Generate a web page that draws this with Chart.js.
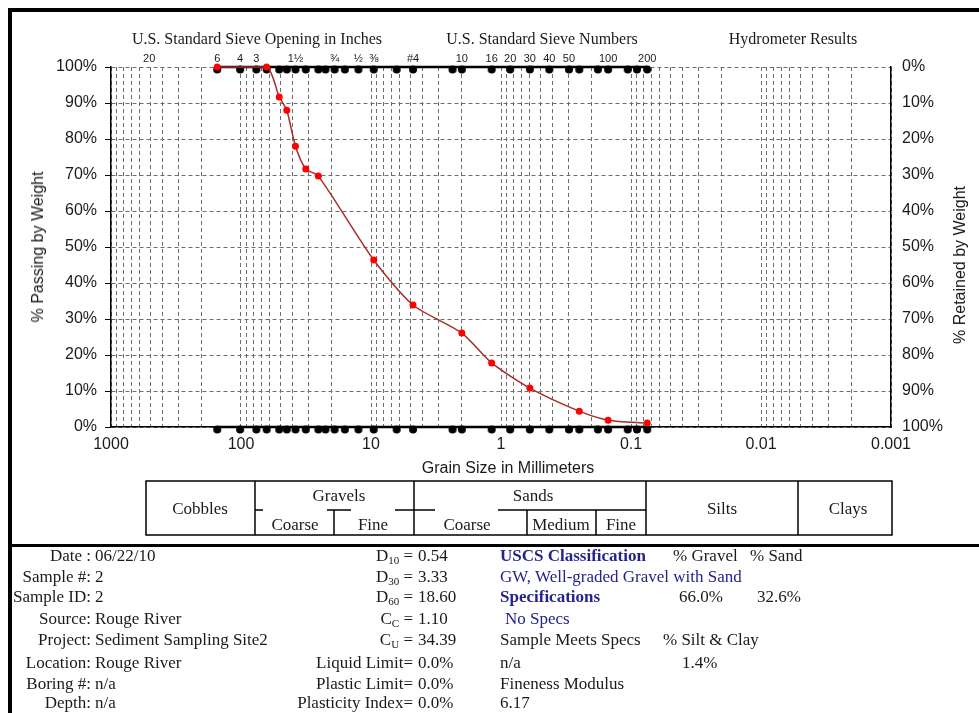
<!DOCTYPE html>
<html>
<head>
<meta charset="utf-8">
<script src="https://cdn.jsdelivr.net/npm/chart.js@4.4.0/dist/chart.umd.min.js"></script>
<style>
body { margin: 0; background: #fff; }
#wrap { position: relative; width: 979px; height: 713px; overflow: hidden; font-family: "Liberation Serif", serif; font-size: 17px; color: #1a1a1a; }
#c { position: absolute; left: 0; top: 0; }
.t { position: absolute; white-space: nowrap; line-height: 18px; }
.h { font-size: 16px; }
.c { transform: translateX(-50%); }
.r { transform: translateX(-100%); }
.sans { font-family: "Liberation Sans", Arial, sans-serif; font-size: 16px; }
.blue { color: #24248c; }
.bar { position: absolute; background: #000; }
sub { font-size: 11px; vertical-align: -3px; line-height: 0; }
</style>
</head>
<body>
<div id="wrap">
<canvas id="c" width="979" height="480"></canvas>

<div class="t h c" style="left:257px;top:30px">U.S. Standard Sieve Opening in Inches</div>
<div class="t h c" style="left:542px;top:30px">U.S. Standard Sieve Numbers</div>
<div class="t h c" style="left:793px;top:30px">Hydrometer Results</div>

<div class="t sans" style="left:38px;top:247px;transform:translate(-50%,-50%) rotate(-90deg)">% Passing by Weight</div>
<div class="t sans" style="left:960px;top:265px;transform:translate(-50%,-50%) rotate(-90deg)">% Retained by Weight</div>
<div class="t sans c" style="left:508px;top:459px">Grain Size in Millimeters</div>

<svg style="position:absolute;left:0;top:0" width="979" height="713">
  <g stroke="#000" stroke-width="1.5" fill="none">
    <rect x="146" y="481" width="746" height="54"/>
    <line x1="255" y1="481" x2="255" y2="535"/>
    <line x1="414" y1="481" x2="414" y2="535"/>
    <line x1="646" y1="481" x2="646" y2="535"/>
    <line x1="798" y1="481" x2="798" y2="535"/>
    <line x1="255" y1="510" x2="263" y2="510"/>
    <line x1="327" y1="510" x2="351" y2="510"/>
    <line x1="395" y1="510" x2="414" y2="510"/>
    <line x1="334" y1="510" x2="334" y2="535"/>
    <line x1="414" y1="510" x2="435" y2="510"/>
    <line x1="498" y1="510" x2="646" y2="510"/>
    <line x1="527" y1="510" x2="527" y2="535"/>
    <line x1="596" y1="510" x2="596" y2="535"/>
  </g>
  <g font-family="Liberation Serif, serif" font-size="17" fill="#1a1a1a" text-anchor="middle" dominant-baseline="central">
    <text x="200" y="508">Cobbles</text>
    <text x="339" y="495">Gravels</text>
    <text x="295" y="524">Coarse</text>
    <text x="373" y="524">Fine</text>
    <text x="533" y="495">Sands</text>
    <text x="467" y="524">Coarse</text>
    <text x="561" y="524">Medium</text>
    <text x="621" y="524">Fine</text>
    <text x="722" y="508">Silts</text>
    <text x="848" y="508">Clays</text>
  </g>
</svg>

<div class="t r" style="left:91px;top:547px">Date :</div>
<div class="t" style="left:95px;top:547px">06/22/10</div>
<div class="t r" style="left:91px;top:568px">Sample #:</div>
<div class="t" style="left:95px;top:568px">2</div>
<div class="t r" style="left:91px;top:588px">Sample ID:</div>
<div class="t" style="left:95px;top:588px">2</div>
<div class="t r" style="left:91px;top:610px">Source:</div>
<div class="t" style="left:95px;top:610px">Rouge River</div>
<div class="t r" style="left:91px;top:631px">Project:</div>
<div class="t" style="left:95px;top:631px">Sediment Sampling Site2</div>
<div class="t r" style="left:91px;top:654px">Location:</div>
<div class="t" style="left:95px;top:654px">Rouge River</div>
<div class="t r" style="left:91px;top:675px">Boring #:</div>
<div class="t" style="left:95px;top:675px">n/a</div>
<div class="t r" style="left:91px;top:694px">Depth:</div>
<div class="t" style="left:95px;top:694px">n/a</div>

<div class="t r" style="left:413px;top:547px">D<sub>10</sub> =</div>
<div class="t" style="left:418px;top:547px">0.54</div>
<div class="t r" style="left:413px;top:568px">D<sub>30</sub> =</div>
<div class="t" style="left:418px;top:568px">3.33</div>
<div class="t r" style="left:413px;top:588px">D<sub>60</sub> =</div>
<div class="t" style="left:418px;top:588px">18.60</div>
<div class="t r" style="left:413px;top:610px">C<sub>C</sub> =</div>
<div class="t" style="left:418px;top:610px">1.10</div>
<div class="t r" style="left:413px;top:631px">C<sub>U</sub> =</div>
<div class="t" style="left:418px;top:631px">34.39</div>
<div class="t r" style="left:413px;top:654px">Liquid Limit=</div>
<div class="t" style="left:418px;top:654px">0.0%</div>
<div class="t r" style="left:413px;top:675px">Plastic Limit=</div>
<div class="t" style="left:418px;top:675px">0.0%</div>
<div class="t r" style="left:413px;top:694px">Plasticity Index=</div>
<div class="t" style="left:418px;top:694px">0.0%</div>

<div class="t blue" style="left:500px;top:547px;width:158px;overflow:hidden;font-weight:bold">USCS Classification</div>
<div class="t" style="left:673px;top:547px">% Gravel</div>
<div class="t" style="left:750px;top:547px">% Sand</div>
<div class="t blue" style="left:500px;top:568px">GW, Well-graded Gravel with Sand</div>
<div class="t blue" style="left:500px;top:588px;font-weight:bold">Specifications</div>
<div class="t" style="left:679px;top:588px">66.0%</div>
<div class="t" style="left:757px;top:588px">32.6%</div>
<div class="t blue" style="left:505px;top:610px">No Specs</div>
<div class="t" style="left:500px;top:631px">Sample Meets Specs</div>
<div class="t" style="left:663px;top:631px">% Silt &amp; Clay</div>
<div class="t" style="left:500px;top:654px">n/a</div>
<div class="t" style="left:682px;top:654px">1.4%</div>
<div class="t" style="left:500px;top:675px">Fineness Modulus</div>
<div class="t" style="left:500px;top:694px">6.17</div>

<div class="bar" style="left:8px;top:8px;width:971px;height:4px"></div>
<div class="bar" style="left:8px;top:8px;width:4px;height:705px"></div>
<div class="bar" style="left:8px;top:544px;width:971px;height:3px"></div>
</div>

<script>
// sieve sizes in mm (markers on the 0% and 100% lines)
var sieveSizes = [152.4, 101.6, 76.2, 63.5, 50.8, 44.45, 38.1, 31.75, 25.4, 22.4, 19.05, 15.9, 12.5, 9.525,
    6.35, 4.75, 2.36, 2.0, 1.18, 0.85, 0.6, 0.425, 0.3, 0.25, 0.18, 0.15, 0.106, 0.09, 0.075];

// gradation curve
var gradSizes = [152.4, 63.5, 50.8, 44.45, 38.1, 31.75, 25.4, 9.525, 4.75, 2.0, 1.18, 0.6, 0.25, 0.15, 0.075];
var gradPassing = [100, 100, 91.7, 88.0, 78.0, 71.7, 69.7, 46.4, 33.9, 26.1, 17.8, 10.8, 4.4, 1.9, 1.1];

// top axis labels
var sieveLabels = ["20", "6", "4", "3", "1½", "¾", "½", "⅜", "#4", "10", "16", "20", "30", "40", "50", "100", "200"];
var sieveLabelSizes = [508, 152.4, 101.6, 76.2, 38.1, 19.05, 12.5, 9.525, 4.75, 2.0, 1.18, 0.85, 0.6, 0.425, 0.3, 0.15, 0.075];

// bottom axis labels
var decadeLabels = [1000, 100, 10, 1, 0.1, 0.01, 0.001];

var gridSizes = [];
for (var e = -3; e < 3; e++) {
    for (var m = 1; m < 10; m++) gridSizes.push(+(m * Math.pow(10, e)).toPrecision(3));
}
gridSizes.push(1000);

// black sieve marker, sits just under the line
var dot = document.createElement('canvas');
dot.width = 10;
dot.height = 14;
var dc = dot.getContext('2d');
dc.fillStyle = '#000';
dc.beginPath();
dc.arc(5, 9.5, 4, 0, Math.PI * 2);
dc.fill();

var sansFont = { family: 'Liberation Sans', size: 16 };
var gridGrey = '#6e6e6e';

var ctx = document.getElementById('c');
var chartGraph = new Chart(ctx, {
    type: 'line',
    data: {
        datasets: [{
            data: gradSizes.map(function (s, i) { return { x: s, y: gradPassing[i] }; }),
            borderColor: 'rgb(168, 44, 40)',
            borderWidth: 1.5,
            tension: 0.25,
            pointRadius: 3.5,
            pointBorderWidth: 0,
            pointBackgroundColor: '#ff0000',
            clip: false
        }, {
            data: sieveSizes.map(function (s) { return { x: s, y: 100 }; }),
            borderColor: '#000',
            borderWidth: 2.5,
            pointStyle: dot,
            clip: false
        }, {
            data: sieveSizes.map(function (s) { return { x: s, y: 0 }; }),
            borderColor: '#000',
            borderWidth: 2.5,
            pointStyle: dot,
            clip: false
        }]
    },
    options: {
        responsive: false,
        animation: false,
        layout: { padding: 0 },
        plugins: { legend: { display: false }, tooltip: { enabled: false } },
        scales: {
            x: {
                type: 'logarithmic', reverse: true, min: 0.001, max: 1000, position: 'bottom',
                afterBuildTicks: function (s) { s.ticks = gridSizes.map(function (v) { return { value: v }; }); },
                afterFit: function (s) { s.height = 53; },
                ticks: {
                    autoSkip: false, maxRotation: 0, padding: 8, font: sansFont, color: '#1a1a1a',
                    callback: function (v) { return decadeLabels.indexOf(v) >= 0 ? String(v) : ''; }
                },
                grid: { color: gridGrey, lineWidth: 1, drawTicks: false },
                border: { display: true, color: '#000', width: 1.5, dash: [4, 3] }
            },
            x2: {
                type: 'logarithmic', reverse: true, min: 0.001, max: 1000, position: 'top',
                afterBuildTicks: function (s) { s.ticks = sieveLabelSizes.map(function (v) { return { value: v }; }); },
                afterFit: function (s) { s.height = 67; },
                ticks: {
                    autoSkip: false, maxRotation: 0, padding: 1, color: '#1a1a1a',
                    font: { family: 'Liberation Sans', size: 11 },
                    callback: function (v, i) { return sieveLabels[i]; }
                },
                grid: { display: false, drawTicks: false },
                border: { display: false }
            },
            y: {
                min: 0, max: 100, position: 'left',
                afterFit: function (s) { s.width = 111; },
                ticks: {
                    stepSize: 5, padding: 8, font: sansFont, color: '#1a1a1a',
                    callback: function (v) { return v % 10 === 0 ? v + '%' : ''; }
                },
                grid: {
                    color: gridGrey, lineWidth: 1, tickLength: 6,
                    tickColor: function (c) { return c.tick && c.tick.value % 10 === 0 ? '#000' : 'rgba(0,0,0,0)'; }
                },
                border: { display: true, color: '#000', width: 1.5, dash: [4, 3] }
            },
            y2: {
                min: 0, max: 100, reverse: true, position: 'right',
                afterFit: function (s) { s.width = 88; },
                ticks: {
                    stepSize: 10, padding: 11, font: sansFont, color: '#1a1a1a',
                    callback: function (v) { return v + '%'; }
                },
                grid: { display: false, drawTicks: false },
                border: { display: true, color: '#000', width: 1.5 }
            }
        }
    }
});
</script>
</body>
</html>
